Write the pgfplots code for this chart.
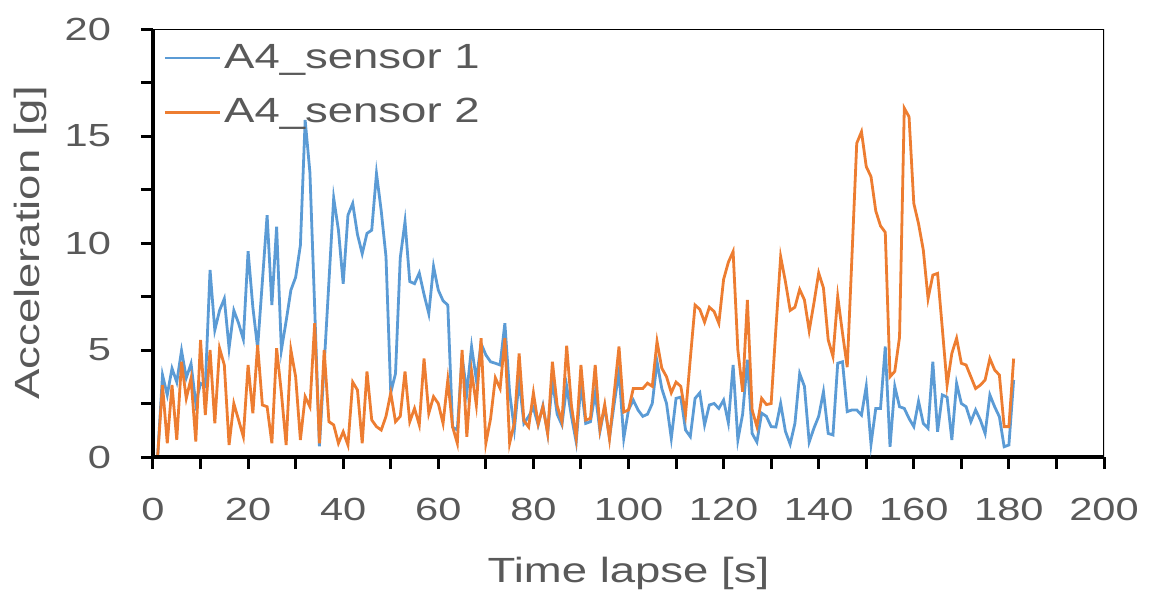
\documentclass[border=0pt]{standalone}
\usepackage{fontspec}
\setmainfont{Liberation Sans}[FakeStretch=1.3]
\usepackage{pgfplots}
\pgfplotsset{compat=1.18}
\usepackage{pgfplotstable}
\definecolor{sblue}{HTML}{5B9BD5}
\definecolor{sorange}{HTML}{ED7D31}
\definecolor{txt}{HTML}{595959}

\pgfplotstableread{
t v
1 0.1
2 3.83
3 2.9
4 4.14
5 3.5
6 4.97
7 3.7
8 4.36
9 2.5
10 3.44
11 3.3
12 8.74
13 5.93
14 6.85
15 7.4
16 5.08
17 6.85
18 6.25
19 5.5
20 9.62
21 7.0
22 5.1
23 8.2
24 11.3
25 7.1
26 10.76
27 5.0
28 6.35
29 7.8
30 8.4
31 9.9
32 15.75
33 13.3
34 7.0
35 0.5
36 4.3
37 8.2
38 12.1
39 10.6
40 8.1
41 11.3
42 11.85
43 10.4
44 9.5
45 10.45
46 10.6
47 13.25
48 11.5
49 9.36
50 3.0
51 3.9
52 9.3
53 11.0
54 8.2
55 8.1
56 8.6
57 7.6
58 6.7
59 8.9
60 7.8
61 7.3
62 7.1
63 1.4
64 1.26
65 4.7
66 3.0
67 5.16
68 3.6
69 5.3
70 4.77
71 4.45
72 4.38
73 4.3
74 6.25
75 3.0
76 1.3
77 3.6
78 1.57
79 1.9
80 2.3
81 1.5
82 2.4
83 1.1
84 3.6
85 2.0
86 1.5
87 3.3
88 1.9
89 0.7
90 3.4
91 1.57
92 1.65
93 3.0
94 1.2
95 2.35
96 0.9
97 2.5
98 4.0
99 0.87
100 2.2
101 2.66
102 2.2
103 1.9
104 2.0
105 2.5
106 4.45
107 3.2
108 2.5
109 0.87
110 2.74
111 2.8
112 1.26
113 0.95
114 2.74
115 3.0
116 1.5
117 2.43
118 2.5
119 2.27
120 2.66
121 1.6
122 4.3
123 0.8
124 2.0
125 4.55
126 1.1
127 0.7
128 2.05
129 1.9
130 1.42
131 1.4
132 2.5
133 1.2
134 0.6
135 1.57
136 3.9
137 3.3
138 0.7
139 1.35
140 1.9
141 3.05
142 1.1
143 1.03
144 4.38
145 4.45
146 2.12
147 2.2
148 2.2
149 1.96
150 3.3
151 0.6
152 2.27
153 2.27
154 5.16
155 0.48
156 3.3
157 2.35
158 2.27
159 1.8
160 1.42
161 2.6
162 1.57
163 1.34
164 4.45
165 1.18
166 2.9
167 2.8
168 0.8
169 3.44
170 2.5
171 2.35
172 1.65
173 2.2
174 1.73
175 1.1
176 2.9
177 2.35
178 1.88
179 0.48
180 0.56
181 3.6
}\sensorA

\pgfplotstableread{
t v
1 0.1
2 3.36
3 0.64
4 3.36
5 0.8
6 4.45
7 2.74
8 3.68
9 0.72
10 5.47
11 1.96
12 5.0
13 1.57
14 5.08
15 4.3
16 0.56
17 2.5
18 1.73
19 0.95
20 4.3
21 2.04
22 5.23
23 2.43
24 2.35
25 0.64
26 5.08
27 3.0
28 0.56
29 5.0
30 3.75
31 0.8
32 2.82
33 2.35
34 6.25
35 0.64
36 5.0
37 1.65
38 1.5
39 0.64
40 1.18
41 0.56
42 3.5
43 3.13
44 0.64
45 4.0
46 1.73
47 1.42
48 1.26
49 1.9
50 3.0
51 1.65
52 1.9
53 4.0
54 1.65
55 2.27
56 1.5
57 4.6
58 2.04
59 2.82
60 2.5
61 1.57
62 3.6
63 1.42
64 0.64
65 5.0
66 0.95
67 4.0
68 2.43
69 5.55
70 0.64
71 1.8
72 3.7
73 3.2
74 5.55
75 0.64
76 1.6
77 4.84
78 1.7
79 1.4
80 3.0
81 1.55
82 2.35
83 1.1
84 4.45
85 2.4
86 1.65
87 5.2
88 2.4
89 0.9
90 4.3
91 1.73
92 1.8
93 4.3
94 1.3
95 2.45
96 0.85
97 3.0
98 5.16
99 2.1
100 2.2
101 3.2
102 3.2
103 3.2
104 3.45
105 3.3
106 5.4
107 4.15
108 3.75
109 3.0
110 3.5
111 3.3
112 2.0
113 4.6
114 7.1
115 6.9
116 6.3
117 7.0
118 6.8
119 6.25
120 8.3
121 9.1
122 9.6
123 5.0
124 3.05
125 7.34
126 2.2
127 1.42
128 2.74
129 2.45
130 2.5
131 6.0
132 9.36
133 8.2
134 6.85
135 7.0
136 7.83
137 7.34
138 5.9
139 7.2
140 8.6
141 7.9
142 5.47
143 4.7
144 7.5
145 5.8
146 4.2
147 9.4
148 14.66
149 15.2
150 13.57
151 13.1
152 11.5
153 10.8
154 10.5
155 3.75
156 4.0
157 5.6
158 16.3
159 15.9
160 11.85
161 10.9
162 9.67
163 7.4
164 8.5
165 8.58
166 6.0
167 3.36
168 4.84
169 5.55
170 4.38
171 4.3
172 3.75
173 3.2
174 3.36
175 3.6
176 4.6
177 4.07
178 3.83
179 1.42
180 1.42
181 4.6
}\sensorB

\begin{document}
\begin{tikzpicture}
\useasboundingbox (-76.5pt,-72pt) rectangle (499pt,228.5pt);
\begin{axis}[
  at={(0,0)}, anchor=south west,
  scale only axis, width=475.5pt, height=214pt,
  xmin=0, xmax=200, ymin=0, ymax=20,
  xtick distance=20, ytick distance=5,
  minor x tick num=1, minor y tick num=1,
  axis x line*=bottom, axis y line*=left,
  axis line style={line width=1.8pt, black, -},
  tick align=outside, major tick length=6pt, minor tick length=6pt,
  every tick/.style={black, line width=1.5pt},
  /pgf/number format/assume math mode=true,
  tick label style={font=\fontsize{16}{16}\selectfont, text=txt},
  xticklabel style={anchor=north, yshift=-11pt},
  yticklabel style={anchor=east, xshift=-11.5pt},
  xlabel={Time lapse [s]}, ylabel={Acceleration [g]},
  label style={font=\fontsize{17.5}{17.5}\selectfont, text=txt},
  xlabel style={at={(axis description cs:0.5,-0.271)}, anchor=center},
  ylabel style={at={(axis description cs:-0.1293,0.5)}, anchor=center},
  legend style={at={(axis description cs:0,1)}, anchor=north west,
    draw=none, fill=none, font=\fontsize{17.5}{17.5}\selectfont, text=txt,
    row sep=9.5pt, inner xsep=5pt, inner ysep=5.5pt,
    nodes={inner xsep=1.5pt}},
  legend cell align=left,
  legend image code/.code={\draw[#1] (0pt,0pt) -- (27.5pt,0pt);},
]
\draw[black, line width=0.9pt] (rel axis cs:0,1) -- (rel axis cs:1,1) -- (rel axis cs:1,0);
\addplot[sblue, line width=1.4pt, sharp plot] table[x=t, y=v] {\sensorA};
\addlegendentry{A4\_sensor 1}
\addplot[sorange, line width=1.4pt, sharp plot] table[x=t, y=v] {\sensorB};
\addlegendentry{A4\_sensor 2}
\end{axis}
\end{tikzpicture}
\end{document}
